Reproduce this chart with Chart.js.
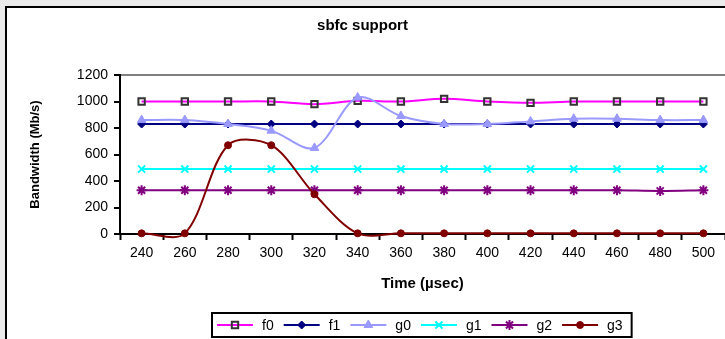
<!DOCTYPE html>
<html>
<head>
<meta charset="utf-8">
<script src="https://cdn.jsdelivr.net/npm/chart.js@4.4.0/dist/chart.umd.min.js"></script>
<style>
  html, body { margin: 0; padding: 0; width: 725px; height: 339px; overflow: hidden; background: #ebebeb; }
  #panel { position: absolute; left: 5px; top: 6px; width: 800px; height: 400px; background: #fff; border: 2px solid #000; }
  #wrap { position: absolute; left: 0; top: 0; width: 745px; height: 339px; }
</style>
</head>
<body>
<div id="panel"></div>
<div id="wrap"><canvas id="chart" width="745" height="339"></canvas></div>
<script>
// time in µsec
const times = ['240', '260', '280', '300', '320', '340', '360', '380', '400', '420', '440', '460', '480', '500'];
const yTicks = [0, 200, 400, 600, 800, 1000, 1200];

// bandwidth in Mb/s
const f0 = [1000, 1000, 1000, 1000, 980, 1005, 1000, 1020, 1000, 990, 1000, 1000, 1000, 1000];
const f1 = [830, 830, 830, 830, 830, 830, 830, 830, 830, 830, 830, 830, 830, 830];
const g0 = [860, 860, 830, 780, 650, 1030, 890, 830, 830, 850, 870, 870, 860, 860];
const g1 = [490, 490, 490, 490, 490, 490, 490, 490, 490, 490, 490, 490, 490, 490];
const g2 = [330, 330, 330, 330, 330, 330, 330, 330, 330, 330, 330, 330, 325, 330];
const g3 = [5, 5, 670, 670, 300, 5, 5, 5, 5, 5, 5, 5, 5, 5];

Chart.defaults.font.family = '"Liberation Sans", Arial, sans-serif';
Chart.defaults.color = '#000';

function series(label, data, color, style, radius, bw, fill, border) {
  return {
    label: label,
    data: data,
    borderColor: color,
    backgroundColor: color,
    borderWidth: 2,
    tension: 0.32,
    pointStyle: style,
    pointRadius: radius,
    pointHoverRadius: radius,
    pointBackgroundColor: fill || color,
    pointBorderColor: border || color,
    pointBorderWidth: bw,
    clip: false
  };
}

const datasets = [
  series('f0', f0, '#ff00ff', 'rect', 4.5, 2, 'rgba(0,0,0,0)', '#333333'),
  series('f1', f1, '#000080', 'rectRot', 4, 1),
  series('g0', g0, '#9999ff', 'triangle', 5, 1),
  series('g1', g1, '#00ffff', 'crossRot', 5, 2),
  series('g2', g2, '#800080', 'star', 5, 2),
  series('g3', g3, '#800000', 'circle', 3.5, 1)
];
// later series drawn on top, as in the original
datasets.forEach((d, i) => { d.order = datasets.length - i; });

// legend in a box below the plot
const boxLegend = {
  id: 'boxLegend',
  afterDraw(chart) {
    const ctx = chart.ctx;
    const y = 325;
    ctx.save();
    ctx.font = '14px "Liberation Sans", Arial, sans-serif';
    ctx.textBaseline = 'middle';
    let x = 217;
    const start = x;
    datasets.forEach(d => {
      ctx.strokeStyle = d.borderColor;
      ctx.lineWidth = 2;
      ctx.beginPath();
      ctx.moveTo(x, y);
      ctx.lineTo(x + 36, y);
      ctx.stroke();
      ctx.fillStyle = d.pointBackgroundColor;
      ctx.strokeStyle = d.pointBorderColor;
      ctx.lineWidth = d.pointBorderWidth;
      Chart.helpers.drawPoint(ctx, { pointStyle: d.pointStyle, radius: d.pointRadius, borderWidth: d.pointBorderWidth, rotation: 0 }, x + 18, y);
      ctx.fillStyle = '#000';
      ctx.fillText(d.label, x + 45, y + 1);
      x += 45 + ctx.measureText(d.label).width + 10;
    });
    ctx.strokeStyle = '#000';
    ctx.lineWidth = 2;
    ctx.strokeRect(start - 5, 313, x - start + 4, 24);
    ctx.restore();
  }
};

new Chart(document.getElementById('chart'), {
  type: 'line',
  data: { labels: times, datasets: datasets },
  plugins: [boxLegend],
  options: {
    responsive: false,
    animation: false,
    devicePixelRatio: 1,
    elements: { line: { capBezierPoints: false } },
    layout: { padding: { left: 0, right: 20, top: 0, bottom: 0 } },
    plugins: {
      legend: { display: false },
      tooltip: { enabled: false },
      title: {
        display: true,
        text: 'sbfc support',
        font: { size: 15, weight: 'bold' },
        color: '#000',
        padding: { top: 17, bottom: 40 }
      }
    },
    scales: {
      x: {
        type: 'category',
        offset: true,
        afterFit: s => { s.height = 105; },
        grid: { offset: true, drawOnChartArea: false, drawTicks: true, tickLength: 6, tickColor: '#000', tickWidth: 2 },
        border: { color: '#000', width: 2 },
        ticks: { font: { size: 14 }, color: '#000', padding: 5, maxRotation: 0, autoSkip: false },
        title: { display: true, text: 'Time (µsec)', font: { size: 15, weight: 'bold' }, color: '#000', padding: { top: 0, bottom: 46 } }
      },
      y: {
        min: 0,
        max: 1200,
        afterFit: s => { s.width = 120; },
        afterBuildTicks: s => { s.ticks = yTicks.map(v => ({ value: v })); },
        grid: {
          drawTicks: true,
          tickLength: 6,
          tickColor: '#000',
          tickWidth: 2,
          lineWidth: 2,
          color: c => (c.tick && c.tick.value === 1200) ? '#808080' : 'rgba(0,0,0,0)'
        },
        border: { color: '#000', width: 2 },
        ticks: { font: { size: 14 }, color: '#000', padding: 6, callback: v => String(v) },
        title: { display: true, text: 'Bandwidth (Mb/s)', font: { size: 13, weight: 'bold' }, color: '#000', padding: { top: 28, bottom: 0 } }
      }
    }
  }
});
</script>
</body>
</html>
